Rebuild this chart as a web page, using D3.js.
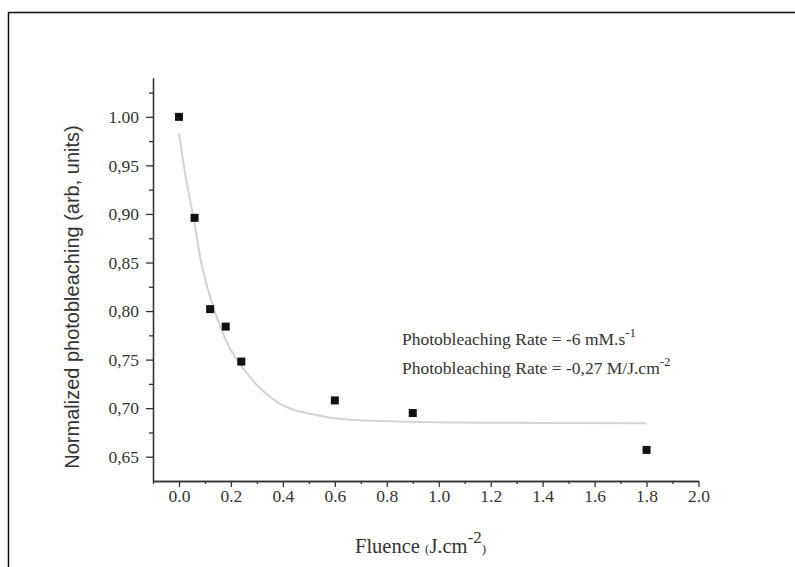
<html>
<head>
<script src="https://d3js.org/d3.v7.min.js"></script>
<style>
body { margin: 0; background: #fff; }
svg { display: block; }
text { fill: #333; }
</style>
</head>
<body>
<svg></svg>
<script>

var width = 795;
var height = 567;

// measured points
var fluence = [0, 0.06, 0.12, 0.18, 0.24, 0.6, 0.9, 1.8];
var bleach = [1.0, 0.896, 0.802, 0.784, 0.748, 0.708, 0.695, 0.657];

// fitted curve
var fitX = [0, 0.026, 0.06, 0.084, 0.113, 0.174, 0.27, 0.386, 0.527, 0.656, 0.9, 1.2, 1.5, 1.8];
var fitY = [0.983, 0.938, 0.89, 0.852, 0.821, 0.774, 0.733, 0.705, 0.693, 0.688, 0.686, 0.685, 0.6847, 0.6845];

var xTicks = [0, 0.2, 0.4, 0.6, 0.8, 1.0, 1.2, 1.4, 1.6, 1.8, 2.0];
var xMinor = [-0.1, 0.1, 0.3, 0.5, 0.7, 0.9, 1.1, 1.3, 1.5, 1.7, 1.9];
var yTicks = [0.65, 0.70, 0.75, 0.80, 0.85, 0.90, 0.95, 1.00];
var yLabels = ["0,65", "0,70", "0,75", "0,80", "0,85", "0,90", "0,95", "1.00"];
var yMinor = [0.675, 0.725, 0.775, 0.825, 0.875, 0.925, 0.975, 1.025];

var svg = d3.select("svg").attr("width", width).attr("height", height);

// outer frame of the figure
svg.append("rect")
.attr("x", 8.5).attr("y", 12.5)
.attr("width", 900).attr("height", 700)
.style("fill", "none").style("stroke", "#111").style("stroke-width", 1.5);

var xScale = d3.scaleLinear().domain([-0.1, 2.0]).range([153, 698.5]);
var yScale = d3.scaleLinear().domain([0.625, 1.04]).range([481, 78]);

// fit line
var line = d3.line()
.x(function(d) { return xScale(d[0]); })
.y(function(d) { return yScale(d[1]); })
.curve(d3.curveMonotoneX);

svg.append("path")
.datum(d3.zip(fitX, fitY))
.attr("d", line)
.style("fill", "none").style("stroke", "#d2d2d2").style("stroke-width", 2);

// axes
var xAxis = svg.append("g").attr("transform", "translate(0,481)")
.call(d3.axisBottom(xScale).tickValues(xTicks).tickSize(6).tickSizeOuter(0)
.tickFormat(d3.format(".1f")));
svg.append("g").attr("transform", "translate(0,481)")
.call(d3.axisBottom(xScale).tickValues(xMinor).tickSize(3).tickSizeOuter(0).tickFormat(""));

var yAxis = svg.append("g").attr("transform", "translate(153,0)")
.call(d3.axisLeft(yScale).tickValues(yTicks).tickSize(7).tickSizeOuter(0)
.tickFormat(function(d, i) { return yLabels[i]; }));
svg.append("g").attr("transform", "translate(153,0)")
.call(d3.axisLeft(yScale).tickValues(yMinor).tickSize(4).tickSizeOuter(0).tickFormat(""));

svg.selectAll(".domain, .tick line").style("stroke", "#333").style("stroke-width", 1.3);
svg.selectAll(".tick text")
.style("font-family", "'Liberation Serif', serif").style("font-size", "17.5px").style("fill", "#333");
xAxis.selectAll(".tick text").attr("y", 9);
yAxis.selectAll(".tick text").attr("x", -14);

// data squares
svg.selectAll("rect.pt").data(d3.zip(fluence, bleach)).enter().append("rect")
.attr("class", "pt")
.attr("x", function(d) { return xScale(d[0]) - 4; })
.attr("y", function(d) { return yScale(d[1]) - 4; })
.attr("width", 8).attr("height", 8)
.style("fill", "#111");

// annotation
var note = svg.append("g").style("font-family", "'Liberation Serif', serif").style("font-size", "17.5px");
var t1 = note.append("text").attr("x", 402).attr("y", 345);
t1.append("tspan").text("Photobleaching Rate = -6 mM.s");
t1.append("tspan").attr("dy", -8).style("font-size", "13px").text("-1");
var t2 = note.append("text").attr("x", 402).attr("y", 374);
t2.append("tspan").text("Photobleaching Rate = -0,27 M/J.cm");
t2.append("tspan").attr("dy", -8).style("font-size", "13px").text("-2");

// axis titles
var xt = svg.append("text").attr("x", 355).attr("y", 553)
.style("font-family", "'Liberation Serif', serif").style("font-size", "20.5px");
xt.append("tspan").text("Fluence ");
xt.append("tspan").style("font-size", "13px").text("(");
xt.append("tspan").text("J.cm");
xt.append("tspan").attr("dy", -10).style("font-size", "17px").text("-2");
xt.append("tspan").attr("dy", 10).style("font-size", "13px").text(")");

svg.append("text")
.attr("transform", "translate(79,297) rotate(-90)")
.attr("text-anchor", "middle")
.style("font-family", "'Liberation Sans', sans-serif").style("font-size", "20px")
.text("Normalized photobleaching (arb, units)");

</script>
</body>
</html>
